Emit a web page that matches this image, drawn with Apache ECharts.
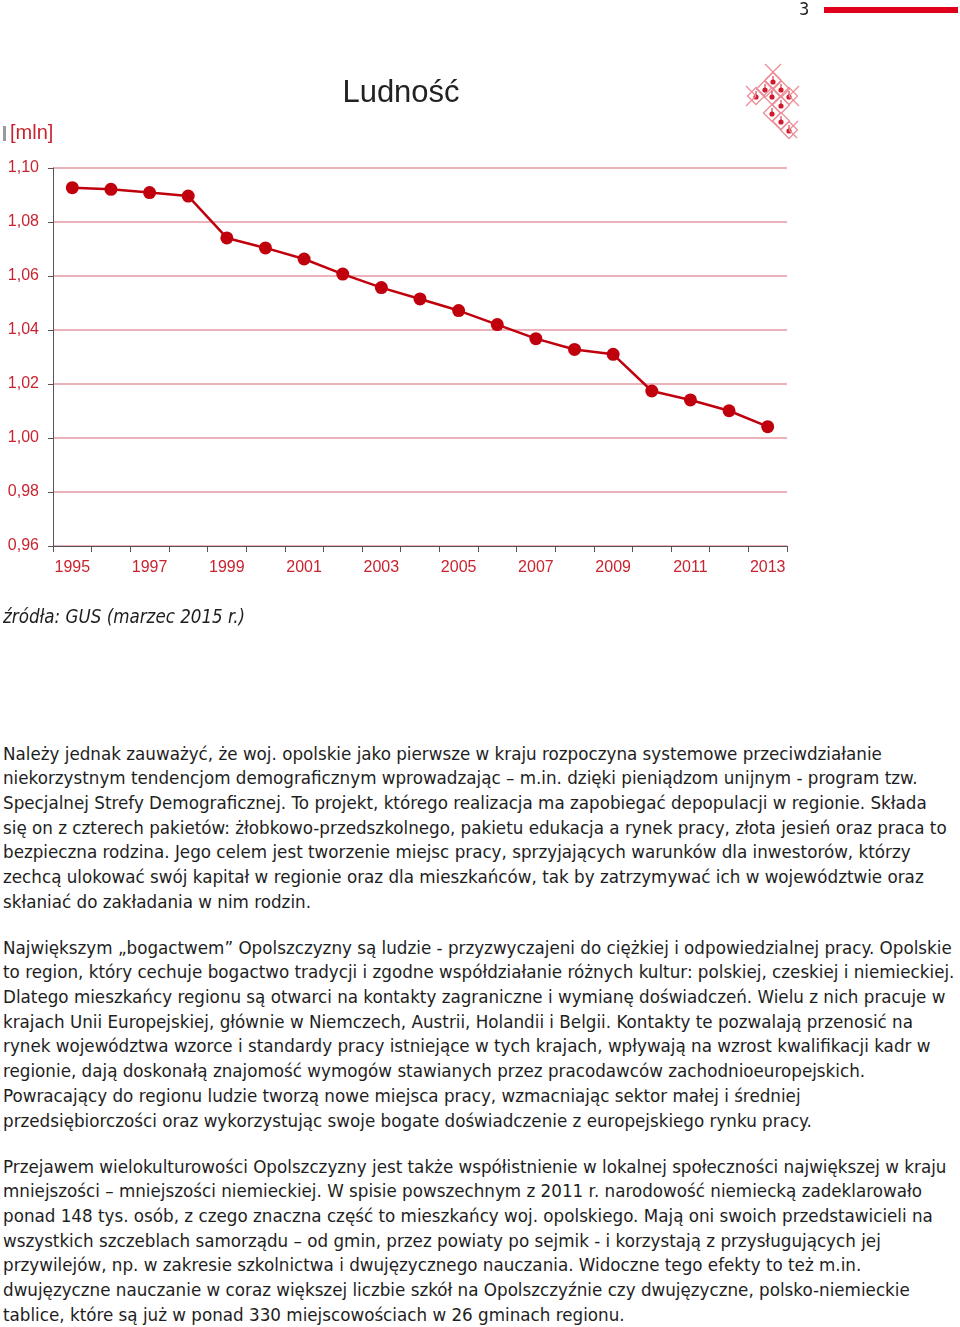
<!DOCTYPE html>
<html>
<head>
<meta charset="utf-8">
<script src="https://cdn.jsdelivr.net/npm/echarts@6/dist/echarts.min.js"></script>
<style>
  html, body { margin: 0; padding: 0; background: #fff; }
  body { width: 960px; height: 1327px; position: relative; overflow: hidden; }
  #chart { position: absolute; left: 0; top: 0; width: 960px; height: 650px; }
  .txt { position: absolute; left: 3px; font-family: "DejaVu Sans", sans-serif; font-size: 16.75px;
         line-height: 24.7px; color: #1e1e1e; white-space: nowrap; }
  .src { position: absolute; left: 3px; top: 605px; font-family: "DejaVu Sans Condensed", "DejaVu Sans", sans-serif;
         font-style: italic; font-size: 18.6px; line-height: 24px; color: #1e1e1e; white-space: nowrap; }
</style>
</head>
<body>
<div id="chart"></div>
<div class="src">źródła: GUS (marzec 2015 r.)</div>
<div class="txt" style="top:741.6px">Należy jednak zauważyć, że woj. opolskie jako pierwsze w kraju rozpoczyna systemowe przeciwdziałanie<br>niekorzystnym tendencjom demograficznym wprowadzając – m.in. dzięki pieniądzom unijnym - program tzw.<br>Specjalnej Strefy Demograficznej. To projekt, którego realizacja ma zapobiegać depopulacji w regionie. Składa<br>się on z czterech pakietów: żłobkowo-przedszkolnego, pakietu edukacja a rynek pracy, złota jesień oraz praca to<br>bezpieczna rodzina. Jego celem jest tworzenie miejsc pracy, sprzyjających warunków dla inwestorów, którzy<br>zechcą ulokować swój kapitał w regionie oraz dla mieszkańców, tak by zatrzymywać ich w województwie oraz<br>skłaniać do zakładania w nim rodzin.</div>
<div class="txt" style="top:935.6px">Największym „bogactwem” Opolszczyzny są ludzie - przyzwyczajeni do ciężkiej i odpowiedzialnej pracy. Opolskie<br>to region, który cechuje bogactwo tradycji i zgodne współdziałanie różnych kultur: polskiej, czeskiej i niemieckiej.<br>Dlatego mieszkańcy regionu są otwarci na kontakty zagraniczne i wymianę doświadczeń. Wielu z nich pracuje w<br>krajach Unii Europejskiej, głównie w Niemczech, Austrii, Holandii i Belgii. Kontakty te pozwalają przenosić na<br>rynek województwa wzorce i standardy pracy istniejące w tych krajach, wpływają na wzrost kwalifikacji kadr w<br>regionie, dają doskonałą znajomość wymogów stawianych przez pracodawców zachodnioeuropejskich.<br>Powracający do regionu ludzie tworzą nowe miejsca pracy, wzmacniając sektor małej i średniej<br>przedsiębiorczości oraz wykorzystując swoje bogate doświadczenie z europejskiego rynku pracy.</div>
<div class="txt" style="top:1154.6px">Przejawem wielokulturowości Opolszczyzny jest także współistnienie w lokalnej społeczności największej w kraju<br>mniejszości – mniejszości niemieckiej. W spisie powszechnym z 2011 r. narodowość niemiecką zadeklarowało<br>ponad 148 tys. osób, z czego znaczna część to mieszkańcy woj. opolskiego. Mają oni swoich przedstawicieli na<br>wszystkich szczeblach samorządu – od gmin, przez powiaty po sejmik - i korzystają z przysługujących jej<br>przywilejów, np. w zakresie szkolnictwa i dwujęzycznego nauczania. Widoczne tego efekty to też m.in.<br>dwujęzyczne nauczanie w coraz większej liczbie szkół na Opolszczyźnie czy dwujęzyczne, polsko-niemieckie<br>tablice, które są już w ponad 330 miejscowościach w 26 gminach regionu.</div>
<script>
// ---- data ----
const years = ["1995","1996","1997","1998","1999","2000","2001","2002","2003","2004",
               "2005","2006","2007","2008","2009","2010","2011","2012","2013"];
const population = [1.0927, 1.0921, 1.0909, 1.0896, 1.0741, 1.0704, 1.0663, 1.0607, 1.0557, 1.0515,
                    1.0472, 1.0420, 1.0368, 1.0328, 1.0310, 1.0174, 1.0141, 1.0101, 1.0042];
const yMin = 0.96, yMax = 1.10, yStep = 0.02;
const titleText = "Ludność";
const unitText = "[mln]";
const pageNumber = "3";

// ---- chart ----
const RED = "#c0000c";
const LABEL_RED = "#c8242f";
const AXIS_FONT = "'Liberation Sans', Arial, sans-serif";

// logo (decorative lattice)
const logoDots = [[773,81],[765,89],[781,89],[756,96],[772,96],[789,96],[781,105],[772,113],[781,121],[789,130]];
const logoEls = [];
logoDots.forEach(function (d) {
  const r = 8.5;
  logoEls.push({ type: 'polygon', shape: { points: [[d[0], d[1]-r],[d[0]+r, d[1]],[d[0], d[1]+r],[d[0]-r, d[1]]] },
    style: { fill: 'none', stroke: '#eb8e98', lineWidth: 1.3 } });
  logoEls.push({ type: 'circle', shape: { cx: d[0], cy: d[1]+1, r: 2.6 }, style: { fill: '#d2192b' } });
  logoEls.push({ type: 'line', shape: { x1: d[0], y1: d[1]-5, x2: d[0], y2: d[1]-1 }, style: { stroke: '#d2192b', lineWidth: 1 } });
});
[[[765,64],[781,80]],[[781,64],[765,80]],[[746,86],[756,96]],[[746,106],[756,96]],[[799,86],[789,96]],[[799,106],[789,96]],
 [[789,130],[797,138]],[[772,121],[781,130]],[[798,121],[789,130]]].forEach(function (s) {
  logoEls.push({ type: 'line', shape: { x1: s[0][0], y1: s[0][1], x2: s[1][0], y2: s[1][1] }, style: { stroke: '#eb8e98', lineWidth: 1.3 } });
});

const chart = echarts.init(document.getElementById('chart'), null, { renderer: 'canvas' });
chart.setOption({
  animation: false,
  backgroundColor: '#fff',
  grid: { left: 53, right: 173, top: 168, bottom: 104, containLabel: false },
  graphic: [
    { type: 'text', left: 799, top: 1, style: { text: pageNumber, font: '18px "DejaVu Sans Condensed", "DejaVu Sans", sans-serif', fill: '#222' } },
    { type: 'rect', shape: { x: 824, y: 7, width: 134, height: 6 }, style: { fill: '#e0001b' } },
    { type: 'text', style: { x: 401, y: 93, text: titleText, align: 'center', verticalAlign: 'middle',
        font: '31px "Liberation Sans", Arial, sans-serif', fill: '#222' } },
    { type: 'rect', shape: { x: 3, y: 126, width: 3, height: 15 }, style: { fill: '#9a9a9a' } },
    { type: 'text', style: { x: 10, y: 133, text: unitText, verticalAlign: 'middle',
        font: '20px ' + AXIS_FONT, fill: LABEL_RED } }
  ].concat(logoEls),
  xAxis: {
    type: 'category',
    data: years,
    boundaryGap: true,
    axisLine: { show: true, lineStyle: { color: '#555', width: 1 } },
    axisTick: { show: true, interval: 0, length: 6, lineStyle: { color: '#555' } },
    axisLabel: { interval: 1, color: LABEL_RED, fontSize: 16, fontFamily: AXIS_FONT, margin: 14 },
    splitLine: { show: false }
  },
  yAxis: {
    type: 'value',
    min: yMin, max: yMax, interval: yStep,
    axisLine: { show: true, lineStyle: { color: '#555', width: 1 } },
    axisTick: { show: true, length: 5, lineStyle: { color: '#555' } },
    axisLabel: { color: LABEL_RED, fontSize: 16, fontFamily: AXIS_FONT, margin: 14,
      formatter: function (v) { return v.toFixed(2).replace('.', ','); } },
    splitLine: { show: true, lineStyle: { color: '#e49aa2', width: 1.5 } }
  },
  series: [{
    type: 'line',
    data: population,
    symbol: 'circle',
    symbolSize: 13,
    lineStyle: { color: RED, width: 2.5 },
    itemStyle: { color: RED },
    z: 5
  }]
});
</script>
</body>
</html>
